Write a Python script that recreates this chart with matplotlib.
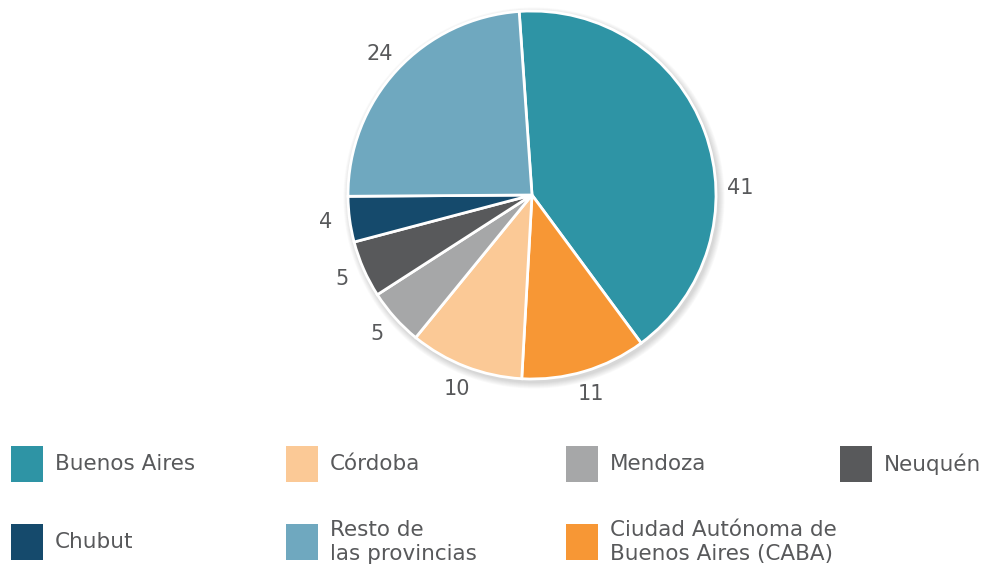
import matplotlib.pyplot as plt
import matplotlib.patches as mpatches
import numpy as np

# datos
provincias = ["Buenos Aires", "Ciudad Autónoma de\nBuenos Aires (CABA)", "Córdoba",
              "Mendoza", "Neuquén", "Chubut", "Resto de\nlas provincias"]
valores = [41, 11, 10, 5, 5, 4, 24]
colores = ["#2E94A5", "#F79735", "#FBC996", "#A6A7A8", "#58595B", "#154A6C", "#6FA8BF"]

# orden de la leyenda (por filas)
orden_leyenda = [0, 2, 3, 4, 5, 6, 1]

texto = "#58595B"
fuente = "DejaVu Sans"

fig = plt.figure(figsize=(9.85, 5.66), dpi=100)
ax = fig.add_axes([0, 0, 1, 1])

cx, cy, r = 532, 371, 184

# sombra suave
for i in range(8):
    ax.add_patch(mpatches.Circle((cx + 2, cy - 3), r + 1 + i * 0.8,
                                 color="black", alpha=0.018, lw=0, zorder=1))

wedges, _ = ax.pie(valores, colors=colores, startangle=94, counterclock=False,
                   center=(cx, cy), radius=r, frame=True,
                   wedgeprops=dict(edgecolor="white", linewidth=2, zorder=2))
ax.set_xlim(0, 985)
ax.set_ylim(0, 566)
ax.set_aspect("equal")
ax.axis("off")

# etiquetas de valores
for i, (w, v) in enumerate(zip(wedges, valores)):
    ang = (w.theta1 + w.theta2) / 2
    dist = 1.13
    if i == 0:
        ang = 2
    x = cx + r * dist * np.cos(np.radians(ang))
    y = cy + r * dist * np.sin(np.radians(ang))
    ax.text(x, y, str(v), ha="center", va="center", fontsize=15,
            color=texto, family=fuente)

# leyenda
col_x = [11, 286, 566, 840]
fila_y = [566 - 464, 566 - 542]
for k, idx in enumerate(orden_leyenda):
    fila, col = divmod(k, 4)
    x0 = col_x[col]
    y0 = fila_y[fila]
    ax.add_patch(mpatches.Rectangle((x0, y0 - 18), 32, 36, color=colores[idx], lw=0))
    ax.text(x0 + 44, y0, provincias[idx], ha="left", va="center", fontsize=15.5,
            color=texto, family=fuente, linespacing=1.2)

fig.savefig("out.png", dpi=100)
